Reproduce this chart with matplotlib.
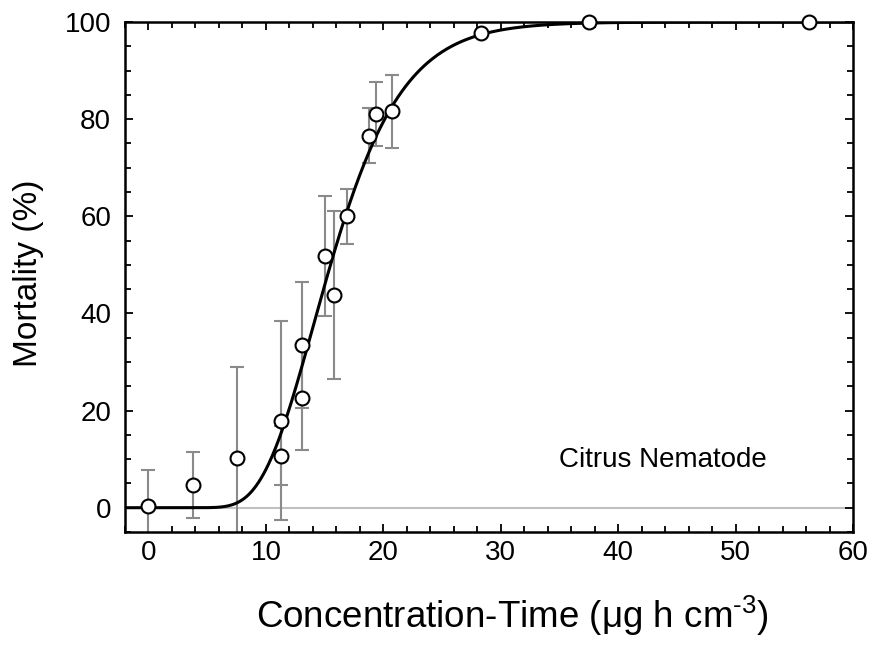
import math
import numpy as np
import matplotlib
matplotlib.use("Agg")
import matplotlib.pyplot as plt
from matplotlib.ticker import MultipleLocator

plt.rcParams['font.family'] = ['Liberation Sans', 'DejaVu Sans']
plt.rcParams['mathtext.fontset'] = 'custom'
plt.rcParams['mathtext.rm'] = 'Liberation Sans'

# data
ct = [0, 3.75, 7.5, 11.25, 11.25, 13.1, 13.1, 15.0, 15.8, 16.9, 18.75, 19.4, 20.7, 28.3, 37.5, 56.25]
mort = [0.3, 4.7, 10.3, 17.9, 10.7, 33.5, 22.6, 51.8, 43.8, 60.0, 76.6, 81.1, 81.6, 97.8, 100, 100]
err = [7.4, 6.8, 18.6, 20.5, 6.1, 13.0, 10.7, 12.4, 17.3, 5.7, 5.6, 6.6, 7.5, 0, 0, 0]

# fitted log-probit curve (parameters)
ec50 = 15.5
sigma = 0.31

ct = np.array(ct)
mort = np.array(mort)
err = np.array(err)

xf = np.linspace(-2, 60, 600)
yf = np.zeros_like(xf)
pos = xf > 0
yf[pos] = [50 * (1 + math.erf(math.log(v / ec50) / (sigma * math.sqrt(2)))) for v in xf[pos]]

fig = plt.figure(figsize=(8.72, 6.46), dpi=100)
ax = fig.add_axes([125 / 872, 1 - 532 / 646, 728 / 872, 510 / 646])

ax.axhline(0, color='#c0c0c0', lw=1.5, zorder=1)

m = err > 0
ax.errorbar(ct[m], mort[m], yerr=err[m], fmt='none', ecolor='#8a8a8a',
            elinewidth=1.5, capsize=5, capthick=1.5, zorder=2)
ax.plot(xf, yf, color='black', lw=2.2, zorder=3)
ax.plot(ct, mort, 'o', ms=10, mfc='white', mec='black', mew=1.5, zorder=4, clip_on=False)

ax.text(35, 8.4, 'Citrus Nematode', fontsize=20, ha='left', va='baseline')

ax.set_xlim(-2, 60)
ax.set_ylim(-5, 100)
ax.xaxis.set_major_locator(MultipleLocator(10))
ax.xaxis.set_minor_locator(MultipleLocator(2))
ax.yaxis.set_major_locator(MultipleLocator(20))
ax.yaxis.set_minor_locator(MultipleLocator(5))
ax.tick_params(which='both', direction='in', top=True, right=True, width=1.3)
ax.tick_params(which='major', length=6, labelsize=20)
ax.tick_params(which='minor', length=4)
ax.tick_params(axis='x', pad=6)
ax.tick_params(axis='y', pad=10)
for s in ax.spines.values():
    s.set_linewidth(1.8)

ax.set_xlabel('Concentration-Time (\u03bcg h cm$^{\\text{-3}}$)', fontsize=26.5)
ax.xaxis.label.set_va('baseline')
ax.xaxis.set_label_coords(0.532, -0.188)
ax.set_ylabel('Mortality (%)', fontsize=24)
ax.yaxis.label.set_va('center')
ax.yaxis.set_label_coords(-0.133, 0.508)

fig.savefig('out.png', dpi=100)
